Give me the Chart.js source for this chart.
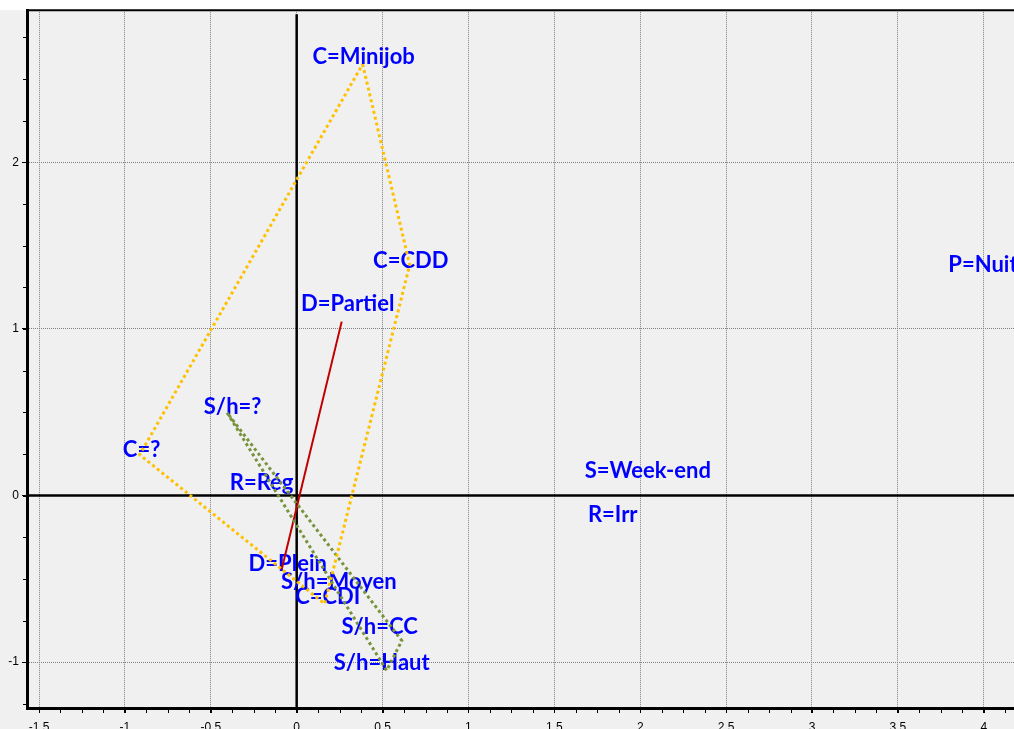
<!DOCTYPE html>
<html>
<head>
<meta charset="utf-8">
<script src="https://cdn.jsdelivr.net/npm/chart.js@4"></script>
<style>
  html, body { margin: 0; padding: 0; background: #fff; }
  #wrap { width: 1014px; height: 729px; position: relative; }
</style>
</head>
<body>
<div id="wrap"><canvas id="chart"></canvas></div>
<script>
const pointNames = ['C=Minijob', 'C=CDD', 'C=CDI', 'C=?', 'D=Partiel', 'D=Plein',
  'S/h=?', 'S/h=Moyen', 'S/h=CC', 'S/h=Haut', 'R=Rég', 'R=Irr', 'S=Week-end', 'P=Nuit'];
const pointX = [0.384, 0.658, 0.163, -0.914, 0.262, -0.087,
  -0.405, 0.204, 0.612, 0.524, -0.204, 1.840, 2.050, 3.990];
const pointY = [2.589, 1.384, -0.650, 0.245, 1.044, -0.442,
  0.497, -0.519, -0.871, -1.050, 0.000, -0.191, 0.066, 1.307];

// position des étiquettes (centre du texte)
const labelX = [0.390, 0.664, 0.181, -0.903, 0.297, -0.052,
  -0.373, 0.245, 0.483, 0.495, -0.204, 1.840, 2.044, 3.995];
const labelY = [2.631, 1.408, -0.609, 0.274, 1.152, -0.412,
  0.531, -0.519, -0.788, -1.002, 0.078, -0.119, 0.149, 1.384];

// enveloppes par variable
const contratPath = ['C=Minijob', 'C=CDD', 'C=CDI', 'C=?', 'C=Minijob'];
const heuresPath = ['S/h=?', 'S/h=Moyen', 'S/h=Haut', 'S/h=CC', 'S/h=?'];
const dureePath = ['D=Partiel', 'D=Plein'];

// axes
const xMin = -1.570, xMax = 4.176;
const yMin = -1.275, yMax = 2.913;

function pathData(names) {
  return names.map(n => {
    const i = pointNames.indexOf(n);
    return { x: pointX[i], y: pointY[i] };
  });
}

const background = {
  id: 'background',
  beforeDraw(chart) {
    const ctx = chart.ctx;
    ctx.save();
    ctx.fillStyle = '#ffffff';
    ctx.fillRect(0, 0, chart.width, chart.height);
    ctx.fillStyle = '#f0f0f0';
    ctx.fillRect(0, chart.chartArea.top, chart.width, chart.height - chart.chartArea.top);
    ctx.restore();
  }
};

const axesExtra = {
  id: 'axesExtra',
  beforeDatasetsDraw(chart) {
    const ctx = chart.ctx, a = chart.chartArea;
    const xs = chart.scales.x, ys = chart.scales.y;
    ctx.save();
    ctx.strokeStyle = '#000';
    // axes zéro
    ctx.lineWidth = 2.5;
    const x0 = xs.getPixelForValue(0), y0 = ys.getPixelForValue(0);
    ctx.beginPath();
    ctx.moveTo(x0, a.top + 4); ctx.lineTo(x0, a.bottom);
    ctx.moveTo(a.left, y0); ctx.lineTo(a.right, y0);
    ctx.stroke();
    // cadre haut
    ctx.lineWidth = 2;
    ctx.beginPath();
    ctx.moveTo(a.left, a.top); ctx.lineTo(a.right, a.top);
    ctx.stroke();
    // petites graduations
    ctx.lineWidth = 1;
    ctx.beginPath();
    for (let v = -1.5; v <= xMax; v += 0.125) {
      const px = Math.round(xs.getPixelForValue(v)) + 0.5;
      ctx.moveTo(px, a.bottom); ctx.lineTo(px, a.bottom + 5);
    }
    for (let v = -1.25; v <= yMax; v += 0.25) {
      const py = Math.round(ys.getPixelForValue(v)) + 0.5;
      ctx.moveTo(a.left - 4, py); ctx.lineTo(a.left, py);
    }
    ctx.stroke();
    // étiquettes
    ctx.fillStyle = '#0000ff';
    ctx.font = 'bold 22px Lato';
    ctx.textAlign = 'center';
    ctx.textBaseline = 'middle';
    pointNames.forEach((n, i) => {
      ctx.fillText(n, xs.getPixelForValue(labelX[i]), ys.getPixelForValue(labelY[i]));
    });
    ctx.restore();
  }
};

const dotted = [3, 3];

new Chart(document.getElementById('chart'), {
  type: 'scatter',
  data: {
    datasets: [
      {
        data: pathData(contratPath), showLine: true,
        borderColor: '#ffc000', borderWidth: 3, borderDash: dotted,
        pointRadius: 0, fill: false
      },
      {
        data: pathData(heuresPath), showLine: true,
        borderColor: '#77933c', borderWidth: 3, borderDash: dotted,
        pointRadius: 0, fill: false
      },
      {
        data: pathData(dureePath), showLine: true,
        borderColor: '#c00000', borderWidth: 2,
        pointRadius: 0, fill: false
      }
    ]
  },
  options: {
    responsive: true,
    maintainAspectRatio: false,
    animation: false,
    layout: { padding: { top: 6, right: 0, left: 0, bottom: 0 } },
    plugins: { legend: { display: false }, tooltip: { enabled: false } },
    scales: {
      x: {
        type: 'linear', min: xMin, max: xMax,
        afterFit(scale) { scale.height = 21; },
        ticks: {
          stepSize: 0.5, includeBounds: false, autoSkip: false, maxRotation: 0,
          padding: 7, color: '#000', font: { family: 'Liberation Sans', size: 12 },
          callback: v => String(v)
        },
        grid: { color: '#808080', lineWidth: 1, tickLength: 5, tickColor: '#000', tickWidth: 1 },
        border: { display: true, color: '#000', width: 3, dash: [1, 1] }
      },
      y: {
        type: 'linear', min: yMin, max: yMax,
        afterFit(scale) { scale.width = 27; },
        ticks: {
          stepSize: 1, includeBounds: false, autoSkip: false,
          padding: 3, color: '#000', font: { family: 'Liberation Sans', size: 12 },
          callback: v => String(v)
        },
        grid: { color: '#808080', lineWidth: 1, tickLength: 5, tickColor: '#000', tickWidth: 1 },
        border: { display: true, color: '#000', width: 3, dash: [1, 1] }
      }
    }
  },
  plugins: [background, axesExtra]
});
</script>
</body>
</html>
